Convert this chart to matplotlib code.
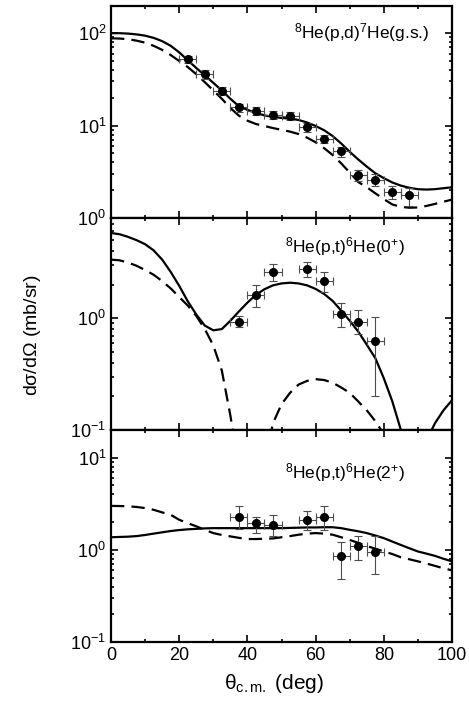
import numpy as np
import matplotlib
matplotlib.use("Agg")
import matplotlib.pyplot as plt
from matplotlib.ticker import MultipleLocator, NullFormatter, LogLocator

plt.rcParams['font.family'] = ['Liberation Sans', 'DejaVu Sans']
plt.rcParams['mathtext.fontset'] = 'custom'
plt.rcParams['mathtext.rm'] = 'Liberation Sans'
plt.rcParams['mathtext.it'] = 'Liberation Sans:italic'
plt.rcParams['mathtext.default'] = 'regular'

# angle grid for the calculated curves (deg)
theta = np.arange(0, 100.1, 2.5)

# 8He(p,d)7He(g.s.)
pd_solid = [100, 100, 99, 97, 94, 89, 82, 73, 62, 51, 42, 35, 29, 24, 19.5, 16.2,
            14.8, 13.7, 12.9, 12.4, 12.1, 11.9, 11.5, 10.8, 9.9, 8.9, 7.7, 6.4,
            5.2, 4.3, 3.6, 3.05, 2.7, 2.42, 2.24, 2.12, 2.05, 2.03, 2.05, 2.1, 2.15]
pd_dash = [88, 87.5, 86, 83, 79, 73, 66, 58, 50, 43, 36, 29.5, 24, 19.5, 15.5, 12.8,
           11.3, 10.4, 9.9, 9.4, 9.0, 8.6, 8.1, 7.4, 6.6, 5.7, 4.8, 3.9, 3.1, 2.45,
           2.15, 1.85, 1.6, 1.4, 1.32, 1.29, 1.3, 1.35, 1.42, 1.5, 1.58]
pd_x = [22.5, 27.5, 32.5, 37.5, 42.5, 47.5, 52.5, 57.5, 62.5, 67.5, 72.5, 77.5, 82.5, 87.5]
pd_y = [52, 36, 23.9, 15.7, 14.4, 13.1, 12.7, 9.6, 7.2, 5.25, 2.94, 2.6, 1.9, 1.79]
pd_lo = [5, 4, 2.5, 1.5, 1.4, 1.2, 1.2, 1.0, 0.7, 0.65, 0.4, 0.38, 0.3, 0.43]
pd_hi = [5, 4, 2.5, 1.5, 1.4, 1.2, 1.2, 1.0, 0.7, 0.65, 0.4, 0.38, 0.3, 0.33]

# 8He(p,t)6He(0+)
pt0_solid = [5.8, 5.65, 5.35, 5.0, 4.6, 4.05, 3.35, 2.6, 1.95, 1.42, 1.08, 0.86, 0.78,
             0.8, 0.95, 1.15, 1.38, 1.62, 1.82, 1.97, 2.05, 2.08, 2.05, 1.97, 1.83,
             1.65, 1.43, 1.17, 0.95, 0.76, 0.58, 0.44, 0.29, 0.18, 0.1, 0.04, 0.015,
             0.08, 0.115, 0.15, 0.185]
pt0_dash = [3.35, 3.3, 3.15, 2.95, 2.7, 2.45, 2.15, 1.85, 1.55, 1.3, 1.05, 0.8,
            0.57, 0.34, 0.135, 0.045, 0.004, 0.01, 0.05, 0.115, 0.17, 0.215, 0.255,
            0.275, 0.285, 0.28, 0.265, 0.24, 0.215, 0.18, 0.15, 0.12, 0.092, 0.045,
            0.005, 0.015, 0.03, 0.045, 0.055, 0.06, 0.06]
pt0_x = [37.5, 42.5, 47.5, 57.5, 62.5, 67.5, 72.5, 77.5]
pt0_y = [0.93, 1.63, 2.59, 2.78, 2.14, 1.1, 0.93, 0.62]
pt0_lo = [0.10, 0.37, 0.45, 0.44, 0.42, 0.26, 0.20, 0.42]
pt0_hi = [0.11, 0.37, 0.49, 0.41, 0.46, 0.27, 0.25, 0.41]

# 8He(p,t)6He(2+)
pt2_solid = [1.37, 1.38, 1.39, 1.41, 1.45, 1.5, 1.55, 1.6, 1.64, 1.67, 1.69, 1.71,
             1.72, 1.72, 1.72, 1.72, 1.72, 1.72, 1.72, 1.72, 1.72, 1.73, 1.74, 1.75,
             1.75, 1.76, 1.76, 1.72, 1.65, 1.59, 1.52, 1.43, 1.34, 1.23, 1.13, 1.04,
             0.96, 0.91, 0.86, 0.8, 0.75]
pt2_dash = [3.0, 2.99, 2.97, 2.92, 2.84, 2.72, 2.55, 2.4, 2.12, 1.95, 1.8, 1.65,
            1.52, 1.45, 1.4, 1.35, 1.31, 1.31, 1.32, 1.33, 1.37, 1.41, 1.46, 1.5,
            1.52, 1.5, 1.46, 1.37, 1.28, 1.19, 1.1, 1.03, 0.96, 0.9, 0.83, 0.79, 0.75,
            0.71, 0.67, 0.63, 0.6]
pt2_x = [37.5, 42.5, 47.5, 57.5, 62.5, 67.5, 72.5, 77.5]
pt2_y = [2.3, 1.95, 1.87, 2.12, 2.27, 0.85, 1.1, 0.94]
pt2_lo = [0.62, 0.41, 0.47, 0.47, 0.62, 0.37, 0.32, 0.39]
pt2_hi = [0.70, 0.35, 0.53, 0.55, 0.73, 0.36, 0.30, 0.46]

panels = [
    (pd_solid, pd_dash, pd_x, pd_y, pd_lo, pd_hi, (1, 197),
     r"$^{8}$He(p,d)$^{7}$He(g.s.)", 0.935, 0.875),
    (pt0_solid, pt0_dash, pt0_x, pt0_y, pt0_lo, pt0_hi, (0.1, 7.9),
     r"$^{8}$He(p,t)$^{6}$He(0$^{+}$)", 0.862, 0.865),
    (pt2_solid, pt2_dash, pt2_x, pt2_y, pt2_lo, pt2_hi, (0.1, 20),
     r"$^{8}$He(p,t)$^{6}$He(2$^{+}$)", 0.862, 0.80),
]

fig = plt.figure(figsize=(4.69, 7.03), dpi=100)
gs = fig.add_gridspec(3, 1, left=0.2367, right=0.9638, bottom=0.0868,
                      top=0.9915, hspace=0)

axes = []
for i, (solid, dash, px, py, lo, hi, ylim, label, tx, ty) in enumerate(panels):
    ax = fig.add_subplot(gs[i])
    axes.append(ax)
    ax.plot(theta, solid, color='black', lw=1.6, solid_capstyle='round')
    ax.plot(theta, dash, color='black', lw=1.6, dashes=(6, 3.2))
    ax.errorbar(px, py, xerr=2.5, yerr=[lo, hi], fmt='o', color='black',
                ms=5.5, ecolor='0.3', elinewidth=0.8, capsize=3, capthick=0.8,
                zorder=5)
    ax.set_yscale('log')
    ax.set_ylim(*ylim)
    ax.set_xlim(0, 100)
    ax.xaxis.set_major_locator(MultipleLocator(20))
    ax.xaxis.set_minor_locator(MultipleLocator(10))
    ax.yaxis.set_major_locator(LogLocator(base=10))
    ax.yaxis.set_minor_locator(LogLocator(base=10, subs=np.arange(2, 10)))
    ax.yaxis.set_minor_formatter(NullFormatter())
    ax.tick_params(which='both', direction='in', top=True, right=True,
                   labelsize=13, width=1.2)
    ax.tick_params(which='major', length=5)
    ax.tick_params(which='minor', length=2.5)
    for s in ax.spines.values():
        s.set_linewidth(1.6)
    if i < 2:
        ax.tick_params(labelbottom=False)
    ax.text(tx, ty, label, transform=ax.transAxes, ha='right', va='center',
            fontsize=12.5)

axes[2].set_xticks([0, 20, 40, 60, 80, 100])
fig.text(0.07, 0.523, r"d$\sigma$/d$\Omega$ (mb/sr)", rotation=90,
         ha='center', va='center', fontsize=14)
fig.text(0.585, 0.028, r"$\theta_{\mathregular{c.m.}}$ (deg)", ha='center',
         va='center', fontsize=15)

fig.savefig("out.png", dpi=100)
